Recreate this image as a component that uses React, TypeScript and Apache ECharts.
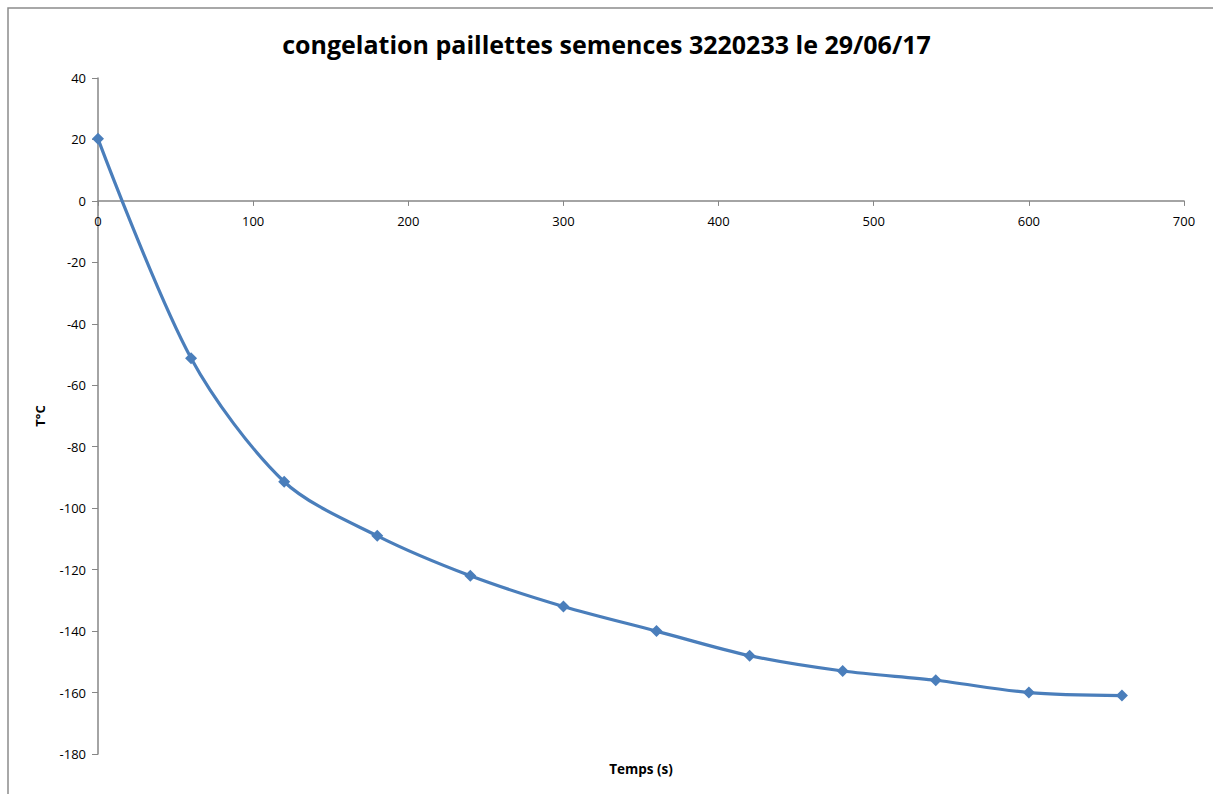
import React, { useEffect, useRef } from "react";
import * as echarts from "echarts";

const titleText = "congelation paillettes semences 3220233 le 29/06/17";
const xName = "Temps (s)";
const yName = "T°C";
const times = [0, 60, 120, 180, 240, 300, 360, 420, 480, 540, 600, 660];
const temps = [20.2, -51.2, -91.4, -109, -122, -132, -140, -148, -153, -156, -160, -161];

export default function App() {
  const ref = useRef<HTMLDivElement>(null);
  useEffect(() => {
    const chart = echarts.init(ref.current!, null, { renderer: "svg" });
    const font = "'Open Sans', 'Noto Sans', sans-serif";
    const gridTop = 78;
    const gridBottom = 40;
    const plotH = 794 - gridTop - gridBottom;
    const yMin = -180;
    const yMax = 40;
    const zeroOffset = (plotH * (0 - yMin)) / (yMax - yMin);
    chart.setOption({
      animation: false,
      backgroundColor: "#ffffff",
      title: {
        text: titleText,
        left: "center",
        top: 26,
        textStyle: { fontFamily: font, fontSize: 25, fontWeight: "bold", color: "#000" },
      },
      grid: { left: 98, right: 29, top: gridTop, bottom: gridBottom },
      xAxis: {
        type: "value",
        min: 0,
        max: 700,
        interval: 100,
        position: "bottom",
        offset: -zeroOffset,
        axisLine: { onZero: false, lineStyle: { color: "#868686", width: 1.5 } },
        axisTick: { show: true, length: 5, lineStyle: { color: "#868686" } },
        axisLabel: { color: "#000", fontFamily: font, fontSize: 13, margin: 14 },
        splitLine: { show: false },
      },
      yAxis: {
        type: "value",
        min: yMin,
        max: yMax,
        interval: 20,
        axisLine: { show: true, onZero: false, lineStyle: { color: "#868686", width: 1.5 } },
        axisTick: { show: true, length: 6, lineStyle: { color: "#868686" } },
        axisLabel: { color: "#000", fontFamily: font, fontSize: 13, margin: 12 },
        splitLine: { show: false },
      },
      series: [
        {
          type: "line",
          data: times.map((t, i) => [t, temps[i]]),
          smooth: 0.3,
          symbol: "diamond",
          symbolSize: 12,
          lineStyle: { color: "#4A7EBB", width: 3.2 },
          itemStyle: { color: "#4A7EBB" },
        },
      ],
      graphic: [
        {
          type: "rect",
          shape: { x: 8, y: 8, width: 1300, height: 900 },
          style: { fill: "none", stroke: "#8c8c8c", lineWidth: 1.5 },
          silent: true,
        },
        {
          type: "text",
          x: 641,
          y: 769,
          style: {
            text: xName,
            fontFamily: font,
            fontSize: 13.5,
            fontWeight: "bold",
            fill: "#000",
            align: "center",
            verticalAlign: "middle",
          },
        },
        {
          type: "text",
          x: 40,
          y: 416,
          rotation: Math.PI / 2,
          style: {
            text: yName,
            fontFamily: font,
            fontSize: 13,
            fontWeight: "bold",
            fill: "#000",
            align: "center",
            verticalAlign: "middle",
          },
        },
      ],
    });
    return () => chart.dispose();
  }, []);
  return (
    <div
      ref={ref}
      style={{ position: "absolute", left: 0, top: 0, width: 1213, height: 794 }}
    />
  );
}
